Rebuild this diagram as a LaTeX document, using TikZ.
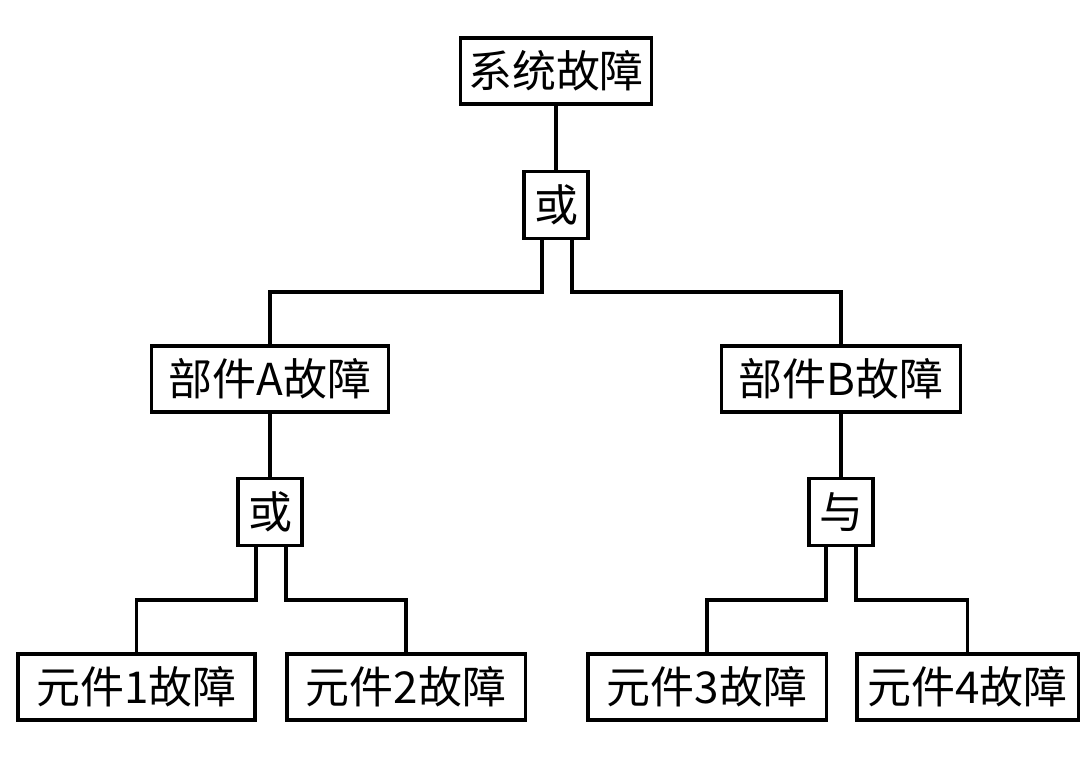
\documentclass[tikz,border=0pt]{standalone}
\usepackage{fontspec}
\setmainfont{Noto Sans CJK SC}
\begin{document}
\begin{tikzpicture}[x=0.01cm,y=-0.01cm,
  box/.style={draw,line width=0.9pt,minimum height=0.66cm,inner sep=0pt,font=\fontsize{12.5}{14}\selectfont},
  gate/.style={draw,line width=0.9pt,minimum width=0.64cm,minimum height=0.67cm,inner sep=0pt,font=\fontsize{12.5}{14}\selectfont},
  ln/.style={line width=0.9pt}]
\useasboundingbox (0,0) rectangle (1080,780);
\node[box,minimum width=1.91cm] (top) at (556,71) {系统故障};
\node[gate] (g0) at (556,205) {或};
\node[box,minimum width=2.37cm] (A) at (270,379) {部件A故障};
\node[box,minimum width=2.39cm] (B) at (841,379) {部件B故障};
\node[gate] (g1) at (270,512) {或};
\node[gate] (g2) at (841,512) {与};
\node[box,minimum width=2.37cm] (e1) at (136.5,687) {元件1故障};
\node[box,minimum width=2.38cm] (e2) at (406,687) {元件2故障};
\node[box,minimum width=2.38cm] (e3) at (707,687) {元件3故障};
\node[box,minimum width=2.21cm] (e4) at (967.5,687) {元件4故障};
\draw[ln] (top) -- (g0);
\draw[ln] ([xshift=-0.14cm]g0.south) |- (400,292) -| (A.north);
\draw[ln] ([xshift=0.16cm]g0.south) |- (700,292) -| (B.north);
\draw[ln] (A) -- (g1);
\draw[ln] (B) -- (g2);
\draw[ln] ([xshift=-0.14cm]g1.south) |- (200,600) -| (e1.north);
\draw[ln] ([xshift=0.16cm]g1.south) |- (350,600) -| (e2.north);
\draw[ln] ([xshift=-0.15cm]g2.south) |- (780,600) -| (e3.north);
\draw[ln] ([xshift=0.15cm]g2.south) |- (900,600) -| (e4.north);
\end{tikzpicture}
\end{document}
